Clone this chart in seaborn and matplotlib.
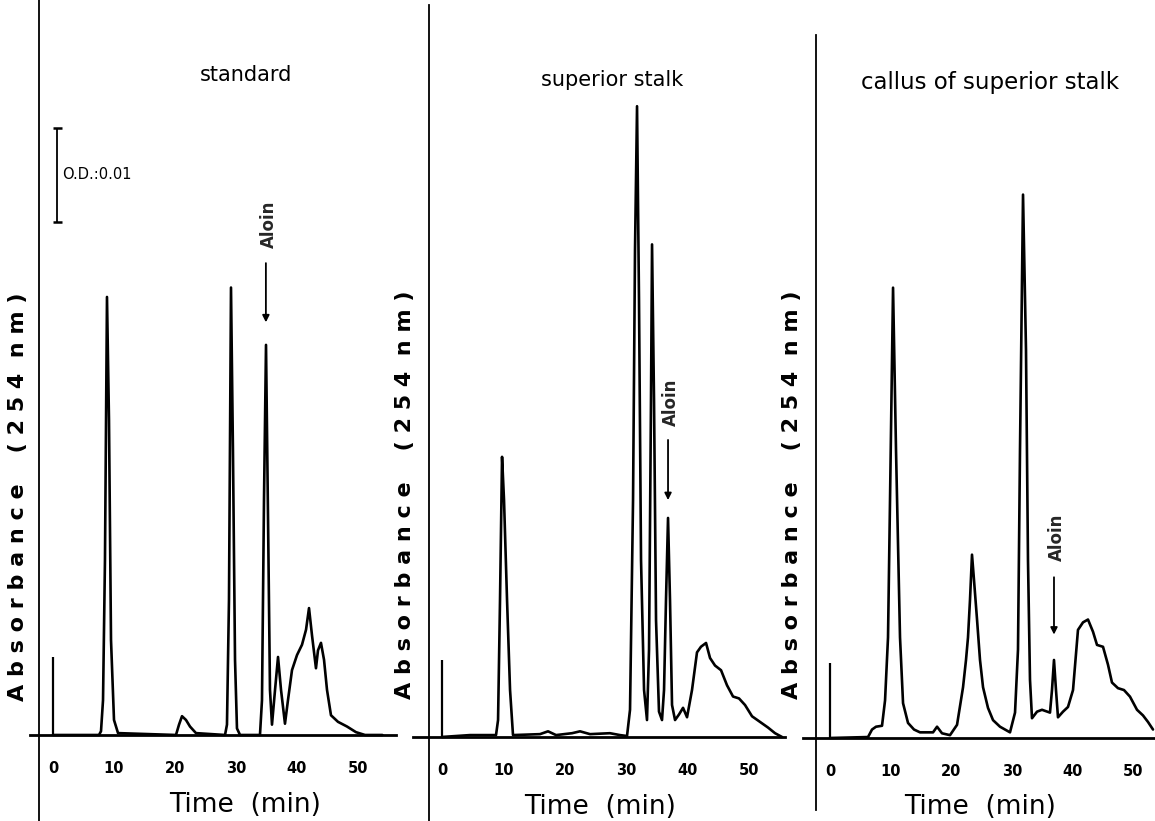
import numpy as np
import pandas as pd
import matplotlib
matplotlib.use("Agg")
import matplotlib.pyplot as plt
import seaborn as sns

######################################## chromatogram data ########################################
# retention time (min) and absorbance at 254 nm (mAU, i.e. 0.001 O.D.)

# standard
std_time = [0.0, 7.54, 7.87, 8.20, 8.52, 8.85, 9.18, 9.51, 10.0, 10.66,
            20.16, 20.66, 21.15, 21.8, 22.46, 23.44,
            28.2, 28.52, 28.85, 29.18, 29.5, 29.84, 30.16, 30.66,
            33.93, 34.26, 34.59, 34.92, 35.25, 35.57, 35.9, 36.4, 36.89, 37.38, 38.03,
            38.52, 39.18, 40.0, 40.82, 41.48, 41.97, 42.46, 43.11, 43.44, 43.93,
            44.43, 44.92, 45.57, 46.72, 48.2, 49.67, 51.15, 54.0]
std_abs = [0.0, 0.0, 0.4, 3.7, 18.6, 46.6, 33.5, 10.1, 1.6, 0.2,
           0.0, 1.1, 2.0, 1.6, 0.9, 0.2,
           0.0, 1.1, 14.4, 47.6, 30.3, 8.0, 0.7, 0.0,
           0.0, 3.7, 25.0, 41.5, 23.1, 4.8, 1.1, 4.8, 8.3, 4.8, 1.2,
           3.7, 6.9, 8.5, 9.6, 11.2, 13.5, 10.6, 7.1, 9.0, 9.8,
           8.0, 4.8, 2.1, 1.4, 0.9, 0.3, 0.0, 0.0]

# superior stalk
sup_time = [0.0, 4.55, 8.78, 9.11, 9.43, 9.76, 10.08, 10.57, 11.06, 11.54,
            15.93, 17.24, 18.54, 21.14, 22.44, 24.07, 27.3, 28.94, 30.08,
            30.57, 31.06, 31.38, 31.71, 32.03, 32.36, 32.85, 33.33,
            33.66, 33.98, 34.15, 34.47, 34.8, 35.28, 35.77,
            36.1, 36.42, 36.75, 37.07, 37.4, 37.89, 38.54, 39.19, 39.84,
            40.65, 41.46, 42.11, 42.93, 43.58, 44.39, 45.37, 46.34, 47.32,
            48.29, 49.27, 50.41, 51.71, 53.01, 54.15, 55.28]
sup_abs = [0.0, 0.2, 0.2, 1.8, 14.6, 29.8, 25.2, 14.6, 5.0, 0.2,
           0.3, 0.6, 0.2, 0.4, 0.6, 0.3, 0.4, 0.2, 0.1,
           2.9, 25.2, 51.8, 67.1, 46.5, 18.8, 5.0, 1.8,
           9.3, 35.9, 52.4, 35.9, 12.4, 2.7, 1.8,
           5.0, 14.6, 23.3, 14.6, 3.4, 1.8, 2.4, 3.1, 2.1,
           5.0, 9.0, 9.6, 10.0, 8.4, 7.6, 7.1, 5.5, 4.3,
           4.1, 3.4, 2.2, 1.6, 1.0, 0.4, 0.0]

# callus of superior stalk
cal_time = [0.0, 6.27, 6.93, 7.59, 8.58, 9.08, 9.57, 9.9, 10.4, 10.89, 11.55,
            12.05, 12.87, 13.86, 14.85, 17.0, 17.66, 18.48, 19.8,
            20.96, 21.95, 22.44, 22.77, 23.1, 23.43, 23.76, 24.26, 24.75, 25.25,
            26.07, 26.9, 28.05, 29.7,
            30.53, 31.02, 31.35, 31.85, 32.34, 32.67, 33.0, 33.33,
            34.16, 34.98, 36.3, 36.63, 36.96, 37.29, 37.62, 38.45, 39.27,
            40.1, 40.92, 41.75, 42.57, 43.4, 44.06, 45.05, 45.87, 46.53,
            47.52, 48.51, 49.5, 50.66, 51.65, 52.48, 53.3]
cal_abs = [0.0, 0.1, 0.9, 1.2, 1.3, 4.0, 10.7, 25.3, 47.9, 30.6, 10.7,
           3.7, 1.6, 0.9, 0.6, 0.6, 1.2, 0.5, 0.3,
           1.4, 5.4, 8.3, 10.7, 14.7, 19.5, 16.8, 12.6, 8.3, 5.4,
           3.2, 1.9, 1.2, 0.6,
           2.7, 9.4, 30.6, 57.8, 41.3, 18.9, 6.2, 2.1,
           2.8, 3.0, 2.7, 5.1, 8.3, 5.1, 2.2, 2.8, 3.3,
           5.1, 11.5, 12.3, 12.6, 11.3, 9.9, 9.7, 7.8, 5.9,
           5.3, 5.1, 4.4, 3.0, 2.4, 1.7, 0.9]

panel_titles = ["standard", "superior stalk", "callus of superior stalk"]
aloin_time = [34.9, 36.75, 36.96]
injection_height = [8.3, 8.2, 8.0]
time_ticks = [0, 10, 20, 30, 40, 50]

traces = pd.concat([
    pd.DataFrame({"sample": panel_titles[0], "time": std_time, "absorbance": std_abs}),
    pd.DataFrame({"sample": panel_titles[1], "time": sup_time, "absorbance": sup_abs}),
    pd.DataFrame({"sample": panel_titles[2], "time": cal_time, "absorbance": cal_abs}),
], ignore_index=True)

######################################## layout (pixels of the 1155x821 page) ########################################
W, H = 1155, 821
sns.set_style("white")
plt.rcParams["font.family"] = ["DejaVu Sans"]

fig = plt.figure(figsize=(W / 100, H / 100), dpi=100)

# per panel: axes left/right px, xlim, ylim, left line position, left line y-bounds
panels = [
    dict(px=(30, 396), xlim=(-3.77, 56.23), ylim=(-9.15, 78.19), spine_x=-2.3, spine_y=(-9.15, 78.19),
         title_xy=(246, 75), title_size=15, xlabel_xy=(245, 805), ylabel_xy=(18, 497),
         aloin=dict(tail=50.2, tip=43.9, txt_x=35.4, txt_y=54.3)),
    dict(px=(413, 785), xlim=(-4.72, 55.77), ylim=(-8.94, 78.4), spine_x=-2.11, spine_y=(-8.94, 77.9),
         title_xy=(612, 80), title_size=15, xlabel_xy=(600, 807), ylabel_xy=(405, 495),
         aloin=dict(tail=31.6, tip=25.2, txt_x=37.25, txt_y=35.6)),
    dict(px=(803, 1155), xlim=(-4.46, 53.63), ylim=(-8.83, 78.5), spine_x=-2.31, spine_y=(-7.66, 74.8),
         title_xy=(990, 82), title_size=16.5, xlabel_xy=(980, 807), ylabel_xy=(792, 495),
         aloin=dict(tail=17.1, tip=11.0, txt_x=37.45, txt_y=21.3)),
]

ylabel_text = "A b s o r b a n c e    ( 2 5 4  n m )"

for i, p in enumerate(panels):
    x0, x1 = p["px"]
    ax = fig.add_axes([x0 / W, 0, (x1 - x0) / W, 1])
    ax.patch.set_alpha(0)
    data = traces[traces["sample"] == panel_titles[i]]
    sns.lineplot(data=data, x="time", y="absorbance", ax=ax, color="black",
                 linewidth=1.9, sort=False, estimator=None, legend=False)

    # injection mark
    ax.vlines(0, 0, injection_height[i], color="black", linewidth=1.6)

    ax.set_xlim(*p["xlim"])
    ax.set_ylim(*p["ylim"])
    ax.spines["top"].set_visible(False)
    ax.spines["right"].set_visible(False)
    ax.spines["bottom"].set_position(("data", 0))
    ax.spines["bottom"].set_linewidth(2.0)
    ax.spines["left"].set_position(("data", p["spine_x"]))
    ax.spines["left"].set_bounds(*p["spine_y"])
    ax.spines["left"].set_linewidth(1.3)
    for s in ["bottom", "left"]:
        ax.spines[s].set_color("black")

    ax.set_xticks(time_ticks)
    ax.set_yticks([])
    ax.tick_params(axis="x", direction="out", length=7, width=1.3, pad=12,
                   labelsize=10.5, colors="black")
    for lab in ax.get_xticklabels():
        lab.set_fontweight("bold")
    ax.set_xlabel("")
    ax.set_ylabel("")

    # Aloin arrow
    a = p["aloin"]
    ax.annotate("", xy=(aloin_time[i], a["tip"]), xytext=(aloin_time[i], a["tail"]),
                arrowprops=dict(arrowstyle="-|>", color="black", lw=1.3,
                                mutation_scale=10, shrinkA=0, shrinkB=0))
    ax.text(a["txt_x"], a["txt_y"], "Aloin", rotation=90, ha="center", va="center",
            fontsize=12, fontweight="bold")

    # panel texts
    tx, ty = p["title_xy"]
    fig.text(tx / W, 1 - ty / H, panel_titles[i], ha="center", va="center",
             fontsize=p["title_size"], color="black")
    lx, ly = p["xlabel_xy"]
    fig.text(lx / W, 1 - ly / H, "Time  (min)", ha="center", va="center", fontsize=19, color="black")
    yx, yy = p["ylabel_xy"]
    fig.text(yx / W, 1 - yy / H, ylabel_text, rotation=90, ha="center", va="center",
             fontsize=16, fontweight="bold", color="black")

    if i == 0:
        # O.D. scale bar (0.01 O.D. = 10 mAU)
        ax.vlines(0.66, 54.6, 64.6, color="black", linewidth=1.3)
        ax.hlines([54.6, 64.6], 0.0, 1.4, color="black", linewidth=1.8)
        ax.text(1.5, 59.6, "O.D.:0.01", ha="left", va="center", fontsize=10.5, color="black")

fig.savefig("out.png", dpi=100)
